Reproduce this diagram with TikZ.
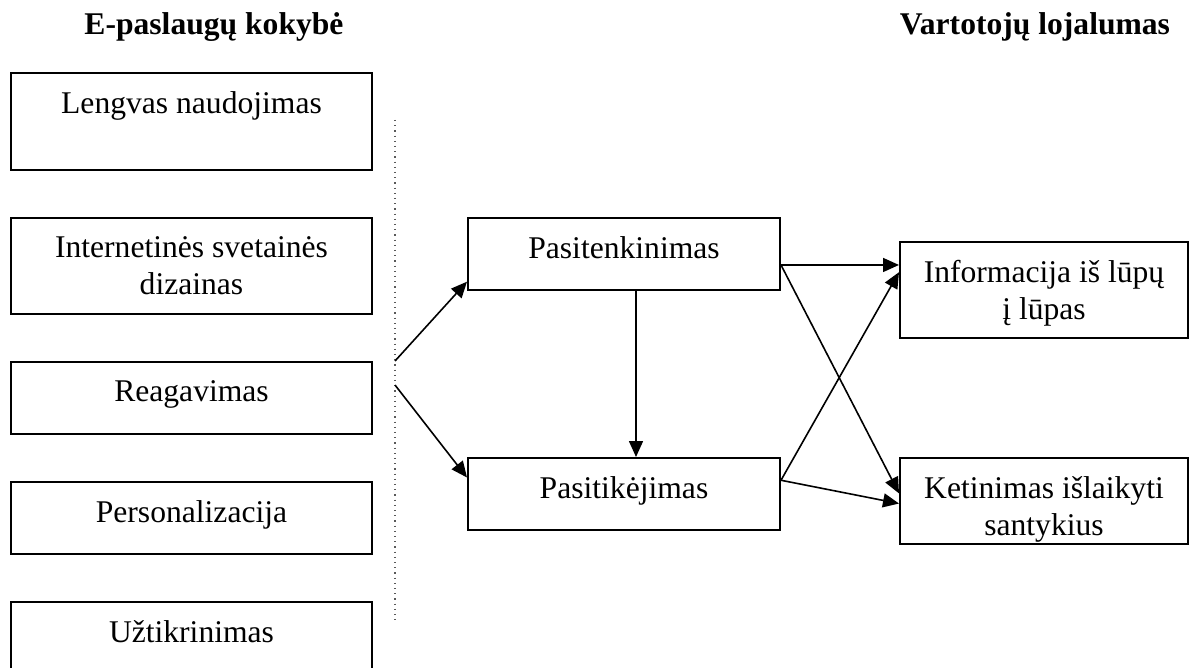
\documentclass[tikz,border=0pt]{standalone}
\usepackage{fontspec}
\setmainfont{Liberation Serif}
\usetikzlibrary{arrows.meta}

\begin{document}
\begin{tikzpicture}[x=0.5pt,y=-0.5pt,
        box/.style 2 args={draw,line width=1pt,anchor=north west,inner sep=0pt,
            minimum width=#1*0.5pt,minimum height=#2*0.5pt},
        txt/.style={anchor=north,yshift=-9.5pt,inner sep=0pt,align=center,
            font=\fontsize{15.8}{18.5}\selectfont},
        head/.style={anchor=base,font=\fontsize{15.8}{18.5}\selectfont\bfseries},
        link/.style={line width=0.8pt,-{Triangle[length=8pt,width=7pt]}}]
    \useasboundingbox (0,0) rectangle (1189,668);
    \node[head] (quality) at (214,35) {E-paslaugų kokybė};
    \node[head] (loyalty) at (1035,35) {Vartotojų lojalumas};
    \node[box={361}{97},label={[txt]north:Lengvas naudojimas}] (ease) at (10,72) {};
    \node[box={361}{96},label={[txt]north:Internetinės svetainės\\dizainas}] (design) at (10,217) {};
    \node[box={361}{72},label={[txt]north:Reagavimas}] (resp) at (10,361) {};
    \node[box={361}{72},label={[txt]north:Personalizacija}] (pers) at (10,481) {};
    \node[box={361}{97},label={[txt]north:Užtikrinimas}] (assur) at (10,601) {};
    \node[box={312}{72},label={[txt]north:Pasitenkinimas}] (sat) at (467,217) {};
    \node[box={312}{72},label={[txt]north:Pasitikėjimas}] (trust) at (467,457) {};
    \node[box={288}{96},label={[txt]north:Informacija iš lūpų\\į lūpas}] (wom) at (899,241) {};
    \node[box={288}{86},label={[txt]north:Ketinimas išlaikyti\\santykius}] (ret) at (899,457) {};
    \coordinate (divtop) at (395,120);
    \coordinate (divbot) at (395,622);
    \coordinate (up) at (395,361);
    \coordinate (down) at (395,385);
    \draw[black!65,dotted,line width=0.6pt] (divtop) -- (divbot);
    \draw[link] (up) -- (sat.190);
    \draw[link] (down) -- (trust.174);
    \draw[link] ([xshift=6pt]sat.south) -- ([xshift=6pt]trust.north);
    \draw[link] (sat.-4) -- (sat.-4 -| wom.west);
    \draw[link] (sat.-4) -- (ret.177);
    \draw[link] (trust.5) -- (wom.173);
    \draw[link] (trust.5) -- (ret.181);
\end{tikzpicture}
\end{document}
